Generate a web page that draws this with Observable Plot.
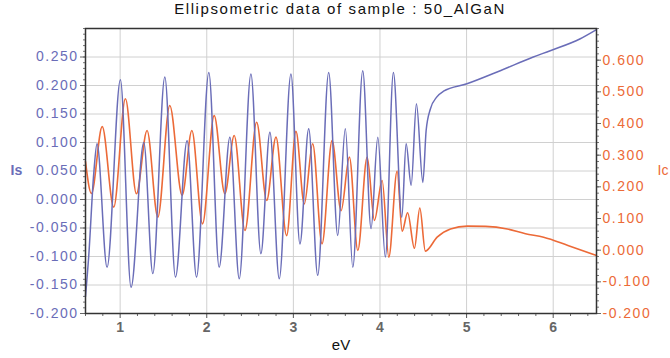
<!DOCTYPE html>
<html>
<head>
<meta charset="utf-8">
<script src="https://cdn.jsdelivr.net/npm/d3@7"></script>
<script src="https://cdn.jsdelivr.net/npm/@observablehq/plot@0.6"></script>
<style>
  html, body { margin: 0; padding: 0; background: #fff; }
  #wrap { width: 670px; height: 358px; overflow: hidden; position: relative; }
  #title { height: 20px; line-height: 24px; font: 15px "Liberation Sans", Arial, sans-serif; letter-spacing: 1.6px;
           text-align: center; padding-left: 10px; box-sizing: border-box; width: 670px; color: #111; white-space: nowrap; }
  svg text { font-family: "Liberation Sans", Arial, sans-serif; }
</style>
</head>
<body>
<div id="wrap">
  <div id="title">Ellipsometric data of sample : 50_AlGaN</div>
  <div id="chart"></div>
</div>
<script>
// Is (left axis, blue)
const eVs = [0.6,0.637,0.695,0.733,0.849,1.003,1.126,1.273,1.377,1.516,1.639,1.773,1.882,2.024,2.143,2.267,2.375,2.510,2.625,2.729,2.837,2.972,3.076,3.177,3.281,3.408,3.512,3.600,3.686,3.801,3.897,3.975,4.062,4.155,4.252,4.302,4.360,4.421,4.495,4.533,4.580,4.657,4.734,5.004,5.389,5.77,5.966,6.313,6.5];
const isVals = [-0.17,-0.10,0.045,0.098,-0.119,0.21,-0.154,0.10,-0.13,0.215,-0.136,0.103,-0.136,0.223,-0.119,0.109,-0.139,0.22,-0.095,0.118,-0.139,0.22,-0.078,0.124,-0.133,0.223,-0.063,0.124,-0.119,0.226,-0.051,0.109,-0.101,0.223,-0.031,0.098,0.025,0.168,0.03,0.121,0.158,0.18,0.19,0.203,0.226,0.25,0.261,0.282,0.298];
// Ic (right axis, red)
const eVc = [0.6,0.668,0.793,0.926,1.061,1.188,1.311,1.435,1.573,1.716,1.828,1.951,2.086,2.209,2.317,2.441,2.576,2.692,2.799,2.922,3.030,3.126,3.223,3.331,3.447,3.551,3.647,3.744,3.852,3.936,4.025,4.102,4.198,4.256,4.319,4.398,4.46,4.524,4.66,4.814,5.008,5.22,5.47,5.68,5.89,6.17,6.5];
const icVals = [0.28,0.179,0.39,0.136,0.478,0.178,0.378,0.104,0.457,0.173,0.378,0.083,0.425,0.178,0.362,0.062,0.404,0.157,0.357,0.046,0.375,0.146,0.336,0.02,0.346,0.125,0.294,-0.001,0.294,0.094,0.22,-0.022,0.25,0.06,0.118,0.006,0.133,-0.003,0.041,0.067,0.076,0.075,0.067,0.052,0.041,0.015,-0.017];
// ticks
const xTicks = [1,2,3,4,5,6];
const leftTicks = [-0.2,-0.15,-0.1,-0.05,0,0.05,0.1,0.15,0.2,0.25];
const rightTicks = [-0.2,-0.1,0,0.1,0.2,0.3,0.4,0.5,0.6];
const leftDomain = [-0.2, 0.3];
const rightDomain = [-0.2, 0.7];

const toLeft = v => leftDomain[0] + (v - rightDomain[0]) * (leftDomain[1]-leftDomain[0]) / (rightDomain[1]-rightDomain[0]);
const toRight = v => rightDomain[0] + (v - leftDomain[0]) * (rightDomain[1]-rightDomain[0]) / (leftDomain[1]-leftDomain[0]);

const isData = eVs.map((x,i) => ({x, y: isVals[i]}));
const icData = eVc.map((x,i) => ({x, y: toLeft(icVals[i])}));

const minorX = d3.range(0.6, 6.51, 0.2).map(v => +v.toFixed(2)).filter(v => !xTicks.includes(Math.round(v*10)/10));
const minorL = d3.range(-0.2, 0.301, 0.01).map(v => +v.toFixed(3));
const minorR = d3.range(-0.2, 0.701, 0.02).map(v => toLeft(+v.toFixed(3)));

const blue = "#6a6db8", red = "#ec6a38";
const fmt = d => d.toFixed(3);
const none = () => "";

const chart = Plot.plot({
  width: 670, height: 338,
  marginTop: 8, marginBottom: 45, marginLeft: 85, marginRight: 74,
  x: {domain: [0.6, 6.5]},
  y: {domain: leftDomain},
  style: {fontFamily: "Liberation Sans, Arial, sans-serif"},
  marks: [
    Plot.gridX(xTicks, {stroke: "#d0d0d0", strokeOpacity: 1}),
    Plot.gridY(leftTicks.filter(d => d > -0.2), {stroke: "#d0d0d0", strokeOpacity: 1}),
    Plot.axisX(minorX, {tickSize: 3, tickFormat: none, stroke: "#666", label: null}),
    Plot.axisX(xTicks, {tickSize: 5, tickPadding: 4, tickFormat: d => String(d), fontSize: 14, fontWeight: "bold", fill: "#666", stroke: "#555", label: null}),
    Plot.axisY(minorL, {anchor: "left", tickSize: 2, tickFormat: none, stroke: "#777", label: null}),
    Plot.axisY(leftTicks, {anchor: "left", tickSize: 5, tickPadding: 2, tickFormat: fmt, fontSize: 14, fill: blue, stroke: "#666", label: null}),
    Plot.axisY(minorR, {anchor: "right", tickSize: 2, tickFormat: none, stroke: "#777", label: null}),
    Plot.axisY(rightTicks.map(toLeft), {anchor: "right", tickSize: 4, tickPadding: 2, tickFormat: d => fmt(toRight(d)), fontSize: 14, fill: red, stroke: "#666", label: null}),
    Plot.line(icData, {x: "x", y: "y", stroke: red, strokeWidth: 1.6, curve: "monotone-x"}),
    Plot.line(isData, {x: "x", y: "y", stroke: blue, strokeWidth: 1.5, curve: "monotone-x"}),
    Plot.frame({stroke: "#333", strokeWidth: 1.5}),
    Plot.text(["Is"], {frameAnchor: "left", dx: -75, textAnchor: "start", fontSize: 14, fill: blue, fontWeight: "bold"}),
    Plot.text(["Ic"], {frameAnchor: "right", dx: 61, textAnchor: "start", fontSize: 14, fill: red}),
    Plot.text(["eV"], {frameAnchor: "bottom", dy: 36, fontSize: 15, fill: "#111"})
  ]
});
chart.querySelectorAll('[aria-label="y-axis tick label"]').forEach(e => e.style.letterSpacing = "1.5px");
document.getElementById("chart").appendChild(chart);
</script>
</body>
</html>
